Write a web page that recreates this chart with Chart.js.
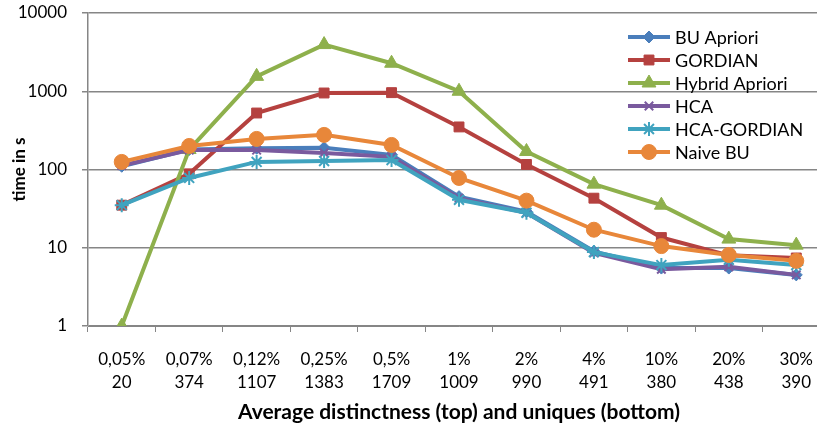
<!DOCTYPE html>
<html>
<head>
<meta charset="utf-8">
<script src="https://cdn.jsdelivr.net/npm/chart.js@4/dist/chart.umd.min.js"></script>
<style>
  body { margin: 0; background: #fff; }
  #wrap { width: 817px; height: 427px; overflow: hidden; position: relative; }
  canvas { display: block; }
</style>
</head>
<body>
<div id="wrap"><canvas id="chart" width="840" height="427"></canvas></div>
<script>
// categories: distinctness (top line) and uniques (bottom line)
const distinctness = ['0,05%', '0,07%', '0,12%', '0,25%', '0,5%', '1%', '2%', '4%', '10%', '20%', '30%'];
const uniques = ['20', '374', '1107', '1383', '1709', '1009', '990', '491', '380', '438', '390'];
const yTicks = [1, 10, 100, 1000, 10000];

// time in s
const buApriori    = [110, 180, 187, 190, 154, 45, 29, 9, 5.5, 5.5, 4.5];
const gordian      = [35, 88, 527, 950, 960, 350, 116, 43, 13.5, 8, 7.4];
const hybridApriori = [1, 180, 1550, 3950, 2280, 1000, 170, 65, 35, 12.9, 10.8];
const hca          = [112, 177, 177, 163, 145, 43, 28, 8.6, 5.3, 5.7, 4.5];
const hcaGordian   = [35, 78, 125, 128, 132, 41, 28, 8.8, 6, 7, 6];
const naiveBU      = [125, 200, 246, 277, 206, 78, 40, 17, 10.5, 8.1, 6.8];

const seriesNames = ['BU Apriori', 'GORDIAN', 'Hybrid Apriori', 'HCA', 'HCA-GORDIAN', 'Naive BU'];
const seriesData = [buApriori, gordian, hybridApriori, hca, hcaGordian, naiveBU];
const colors = ['#4A7EBB', '#B5413F', '#8EB04C', '#7A5A9E', '#40A3BF', '#E8873A'];
const markers = ['rectRot', 'rect', 'triangle', 'crossRot', 'star', 'circle'];
const markerSize = [6, 7, 8, 6, 7, 7.5];

const FONT = 'Lato, "Liberation Sans", sans-serif';

const datasets = seriesNames.map((name, i) => ({
    label: name,
    data: seriesData[i],
    borderColor: colors[i],
    backgroundColor: colors[i],
    borderWidth: 4,
    pointStyle: markers[i],
    pointRadius: markerSize[i],
    pointBorderWidth: (markers[i] === 'crossRot' || markers[i] === 'star') ? 2 : 1,
    pointBorderColor: colors[i],
    pointBackgroundColor: colors[i],
    tension: 0,
    order: seriesNames.length - i
}));

// legend drawn inside the plot area, line + marker like the original
const insideLegend = {
    id: 'insideLegend',
    afterDraw(chart) {
        const ctx = chart.ctx;
        const x0 = 628, x1 = 670, top = 37, step = 23;
        ctx.save();
        ctx.font = '18px ' + FONT;
        ctx.textBaseline = 'middle';
        seriesNames.forEach((name, i) => {
            const y = top + i * step;
            ctx.strokeStyle = colors[i];
            ctx.lineWidth = 4;
            ctx.beginPath();
            ctx.moveTo(x0, y);
            ctx.lineTo(x1, y);
            ctx.stroke();
            ctx.fillStyle = colors[i];
            ctx.lineWidth = datasets[i].pointBorderWidth;
            Chart.helpers.drawPoint(ctx, { pointStyle: markers[i], radius: markerSize[i], rotation: 0, borderWidth: datasets[i].pointBorderWidth }, (x0 + x1) / 2, y);
            ctx.fillStyle = '#000';
            ctx.fillText(name, 675, y + 1);
        });
        ctx.restore();
    }
};

new Chart(document.getElementById('chart'), {
    type: 'line',
    data: {
        labels: distinctness.map((d, i) => [d, uniques[i]]),
        datasets: datasets
    },
    plugins: [insideLegend],
    options: {
        responsive: false,
        animation: false,
        layout: { padding: { top: 13, right: 10, left: 0, bottom: 0 } },
        plugins: {
            legend: { display: false },
            tooltip: { enabled: false }
        },
        scales: {
            x: {
                offset: true,
                grid: { drawOnChartArea: false, offset: true, tickLength: 6, color: '#868686', lineWidth: 1 },
                border: { color: '#868686', width: 1 },
                ticks: { color: '#000', font: { family: FONT, size: 17, lineHeight: 1.35 }, padding: 16, maxRotation: 0, autoSkip: false },
                title: { display: true, text: 'Average distinctness (top) and uniques (bottom)', color: '#000', font: { family: FONT, size: 21, weight: 'bold' }, padding: { top: 0, bottom: 2 } },
                afterFit(scale) { scale.height = 101; }
            },
            y: {
                type: 'logarithmic',
                min: 1,
                max: 10000,
                afterBuildTicks(scale) { scale.ticks = yTicks.map(v => ({ value: v })); },
                grid: { color: '#868686', lineWidth: 1.5, tickLength: 6 },
                border: { color: '#868686', width: 1.5 },
                ticks: { color: '#000', font: { family: FONT, size: 17 }, padding: 15, callback: v => String(v) },
                title: { display: true, text: 'time in s', color: '#000', font: { family: FONT, size: 17, weight: 'bold' }, padding: { top: 9, bottom: 0 } },
                afterFit(scale) {
                    scale.width = 88;
                    scale.paddingTop = 0;
                    scale.paddingBottom = 0;
                }
            }
        }
    }
});
</script>
</body>
</html>
